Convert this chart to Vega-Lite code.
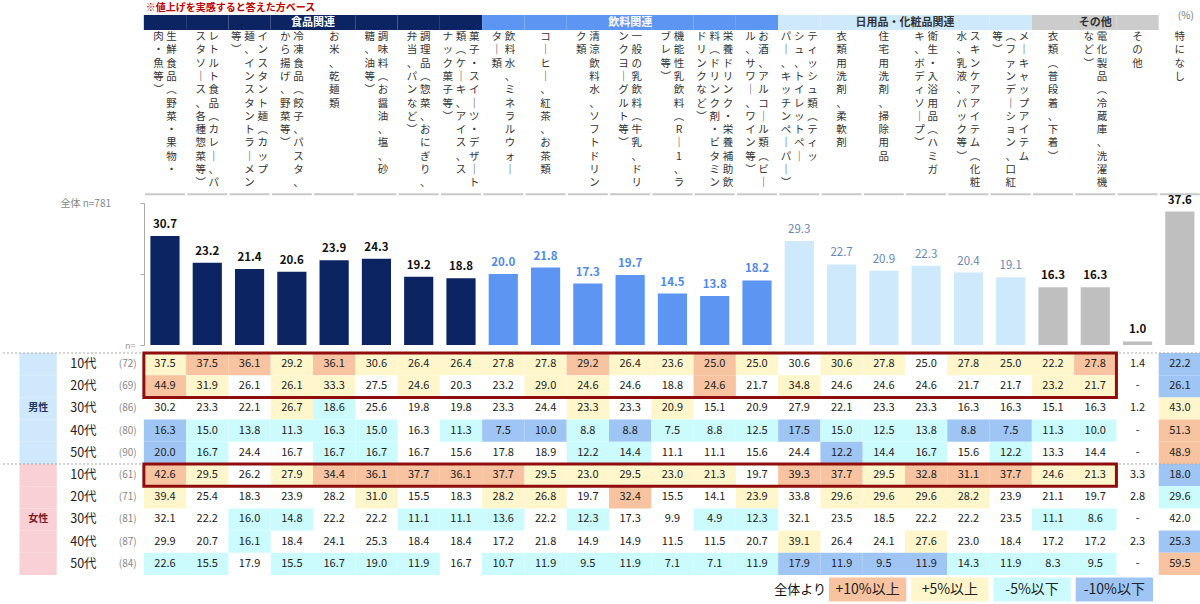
{
  "$schema": "https://vega.github.io/schema/vega-lite/v6.json",
  "padding": 0,
  "spacing": 0,
  "bounds": "flush",
  "config": {"view": {"stroke": null}, "font": "Noto Sans CJK JP"},
  "resolve": {"scale": {"x": "independent", "y": "independent", "color": "independent"}},
  "datasets": {
    "bars": [
      {"c":1,"cat":"食品関連","v":30.7},{"c":2,"cat":"食品関連","v":23.2},{"c":3,"cat":"食品関連","v":21.4},{"c":4,"cat":"食品関連","v":20.6},
      {"c":5,"cat":"食品関連","v":23.9},{"c":6,"cat":"食品関連","v":24.3},{"c":7,"cat":"食品関連","v":19.2},{"c":8,"cat":"食品関連","v":18.8},
      {"c":9,"cat":"飲料関連","v":20.0},{"c":10,"cat":"飲料関連","v":21.8},{"c":11,"cat":"飲料関連","v":17.3},{"c":12,"cat":"飲料関連","v":19.7},
      {"c":13,"cat":"飲料関連","v":14.5},{"c":14,"cat":"飲料関連","v":13.8},{"c":15,"cat":"飲料関連","v":18.2},
      {"c":16,"cat":"日用品・化粧品関連","v":29.3},{"c":17,"cat":"日用品・化粧品関連","v":22.7},{"c":18,"cat":"日用品・化粧品関連","v":20.9},
      {"c":19,"cat":"日用品・化粧品関連","v":22.3},{"c":20,"cat":"日用品・化粧品関連","v":20.4},{"c":21,"cat":"日用品・化粧品関連","v":19.1},
      {"c":22,"cat":"その他","v":16.3},{"c":23,"cat":"その他","v":16.3},{"c":24,"cat":"その他","v":1.0},
      {"c":25,"cat":"特になし","v":37.6}
    ],
    "labels": [
      {"c":1,"o":0.5,"t":"生\n鮮\n食\n品\n︵\n野\n菜\n・\n果\n物\n・"},
      {"c":1,"o":-0.5,"t":"肉\n・\n魚\n等\n︶"},
      {"c":2,"o":0.5,"t":"レ\nト\nル\nト\n食\n品\n︵\nカ\nレ\n｜\n、\nパ"},
      {"c":2,"o":-0.5,"t":"ス\nタ\nソ\n｜\nス\n、\n各\n種\n惣\n菜\n等\n︶"},
      {"c":3,"o":1,"t":"イ\nン\nス\nタ\nン\nト\n麺\n︵\nカ\nッ\nプ"},
      {"c":3,"o":0,"t":"麺\n、\nイ\nン\nス\nタ\nン\nト\nラ\n｜\nメ\nン"},
      {"c":3,"o":-1,"t":"等\n︶"},
      {"c":4,"o":0.5,"t":"冷\n凍\n食\n品\n︵\n餃\n子\n、\nパ\nス\nタ\n、"},
      {"c":4,"o":-0.5,"t":"か\nら\n揚\nげ\n、\n野\n菜\n等\n︶"},
      {"c":5,"o":0,"t":"お\n米\n、\n乾\n麺\n類"},
      {"c":6,"o":0.5,"t":"調\n味\n料\n︵\nお\n醤\n油\n、\n塩\n、\n砂"},
      {"c":6,"o":-0.5,"t":"糖\n、\n油\n等\n︶"},
      {"c":7,"o":0.5,"t":"調\n理\n品\n︵\n惣\n菜\n、\nお\nに\nぎ\nり\n、"},
      {"c":7,"o":-0.5,"t":"弁\n当\n、\nパ\nン\nな\nど\n︶"},
      {"c":8,"o":1,"t":"菓\n子\n・\nス\nイ\n｜\nツ\n・\nデ\nザ\n｜\nト"},
      {"c":8,"o":0,"t":"類\n︵\nケ\n｜\nキ\n、\nア\nイ\nス\n、\nス"},
      {"c":8,"o":-1,"t":"ナ\nッ\nク\n菓\n子\n等\n︶"},
      {"c":9,"o":0.5,"t":"飲\n料\n水\n、\nミ\nネ\nラ\nル\nウ\nォ\n｜"},
      {"c":9,"o":-0.5,"t":"タ\n｜\n類"},
      {"c":10,"o":0,"t":"コ\n｜\nヒ\n｜\n、\n紅\n茶\n、\nお\n茶\n類"},
      {"c":11,"o":0.5,"t":"清\n涼\n飲\n料\n水\n、\nソ\nフ\nト\nド\nリ\nン"},
      {"c":11,"o":-0.5,"t":"ク\n類"},
      {"c":12,"o":0.5,"t":"一\n般\nの\n乳\n飲\n料\n︵\n牛\n乳\n、\nド\nリ"},
      {"c":12,"o":-0.5,"t":"ン\nク\nヨ\n｜\nグ\nル\nト\n等\n︶"},
      {"c":13,"o":0.5,"t":"機\n能\n性\n乳\n飲\n料\n︵\nR\n｜\n1\n、\nラ"},
      {"c":13,"o":-0.5,"t":"ブ\nレ\n等\n︶"},
      {"c":14,"o":1,"t":"栄\n養\nド\nリ\nン\nク\n・\n栄\n養\n補\n助\n飲"},
      {"c":14,"o":0,"t":"料\n︵\nド\nリ\nン\nク\n剤\n・\nビ\nタ\nミ\nン"},
      {"c":14,"o":-1,"t":"ド\nリ\nン\nク\nな\nど\n︶"},
      {"c":15,"o":0.5,"t":"お\n酒\n、\nア\nル\nコ\n｜\nル\n類\n︵\nビ\n｜"},
      {"c":15,"o":-0.5,"t":"ル\n、\nサ\nワ\n｜\n、\nワ\nイ\nン\n等\n︶"},
      {"c":16,"o":1,"t":"テ\nィ\nッ\nシ\nュ\n類\n︵\nテ\nィ\nッ"},
      {"c":16,"o":0,"t":"シ\nュ\n、\nト\nイ\nレ\nッ\nト\nペ\n｜"},
      {"c":16,"o":-1,"t":"パ\n｜\n、\nキ\nッ\nチ\nン\nペ\n｜\nパ\n｜\n︶"},
      {"c":17,"o":0,"t":"衣\n類\n用\n洗\n剤\n、\n柔\n軟\n剤"},
      {"c":18,"o":0,"t":"住\n宅\n用\n洗\n剤\n、\n掃\n除\n用\n品"},
      {"c":19,"o":0.5,"t":"衛\n生\n・\n入\n浴\n用\n品\n︵\nハ\nミ\nガ"},
      {"c":19,"o":-0.5,"t":"キ\n、\nボ\nデ\nィ\nソ\n｜\nプ\n︶"},
      {"c":20,"o":0.5,"t":"ス\nキ\nン\nケ\nア\nア\nイ\nテ\nム\n︵\n化\n粧"},
      {"c":20,"o":-0.5,"t":"水\n、\n乳\n液\n、\nパ\nッ\nク\n等\n︶"},
      {"c":21,"o":1,"t":"メ\n｜\nキ\nャ\nッ\nプ\nア\nイ\nテ\nム"},
      {"c":21,"o":0,"t":"︵\nフ\nァ\nン\nデ\n｜\nシ\nョ\nン\n、\n口\n紅"},
      {"c":21,"o":-1,"t":"等\n︶"},
      {"c":22,"o":0,"t":"衣\n類\n︵\n普\n段\n着\n、\n下\n着\n︶"},
      {"c":23,"o":0.5,"t":"電\n化\n製\n品\n︵\n冷\n蔵\n庫\n、\n洗\n濯\n機"},
      {"c":23,"o":-0.5,"t":"な\nど\n︶"},
      {"c":24,"o":0,"t":"そ\nの\n他"},
      {"c":25,"o":0,"t":"特\nに\nな\nし"}
    ],
    "cells": [
      {"r":"男10","c":[1,2,3,4,5,6,7,8,9,10,11,12,13,14,15,16,17,18,19,20,21,22,23,24,25],
       "v":[37.5,37.5,36.1,29.2,36.1,30.6,26.4,26.4,27.8,27.8,29.2,26.4,23.6,25.0,25.0,30.6,30.6,27.8,25.0,27.8,25.0,22.2,27.8,1.4,22.2],
       "h":["p5","p10","p10","p5","p10","p5","p5","p5","p5","p5","p10","p5","p5","p10","p5","","p5","p5","","p5","p5","p5","p10","","m10"]},
      {"r":"男20","c":[1,2,3,4,5,6,7,8,9,10,11,12,13,14,15,16,17,18,19,20,21,22,23,24,25],
       "v":[44.9,31.9,26.1,26.1,33.3,27.5,24.6,20.3,23.2,29.0,24.6,24.6,18.8,24.6,21.7,34.8,24.6,24.6,24.6,21.7,21.7,23.2,21.7,null,26.1],
       "h":["p10","p5","","p5","p5","","p5","","","p5","p5","","","p10","","p5","","","","","","p5","p5","","m10"]},
      {"r":"男30","c":[1,2,3,4,5,6,7,8,9,10,11,12,13,14,15,16,17,18,19,20,21,22,23,24,25],
       "v":[30.2,23.3,22.1,26.7,18.6,25.6,19.8,19.8,23.3,24.4,23.3,23.3,20.9,15.1,20.9,27.9,22.1,23.3,23.3,16.3,16.3,15.1,16.3,1.2,43.0],
       "h":["","","","p5","m5","","","","","","p5","","p5","","","","","","","","","","","","p5"]},
      {"r":"男40","c":[1,2,3,4,5,6,7,8,9,10,11,12,13,14,15,16,17,18,19,20,21,22,23,24,25],
       "v":[16.3,15.0,13.8,11.3,16.3,15.0,16.3,11.3,7.5,10.0,8.8,8.8,7.5,8.8,12.5,17.5,15.0,12.5,13.8,8.8,7.5,11.3,10.0,null,51.3],
       "h":["m10","m5","m5","m5","m5","m5","","m5","m10","m10","m5","m10","m5","m5","m5","m10","m5","m5","m5","m10","m10","m5","m5","","p10"]},
      {"r":"男50","c":[1,2,3,4,5,6,7,8,9,10,11,12,13,14,15,16,17,18,19,20,21,22,23,24,25],
       "v":[20.0,16.7,24.4,16.7,16.7,16.7,16.7,15.6,17.8,18.9,12.2,14.4,11.1,11.1,15.6,24.4,12.2,14.4,16.7,15.6,12.2,13.3,14.4,null,48.9],
       "h":["m10","m5","","","m5","m5","","","","","m5","m5","","","","","m10","m5","m5","","m5","","","","p10"]},
      {"r":"女10","c":[1,2,3,4,5,6,7,8,9,10,11,12,13,14,15,16,17,18,19,20,21,22,23,24,25],
       "v":[42.6,29.5,26.2,27.9,34.4,36.1,37.7,36.1,37.7,29.5,23.0,29.5,23.0,21.3,19.7,39.3,37.7,29.5,32.8,31.1,37.7,24.6,21.3,3.3,18.0],
       "h":["p10","p5","","p5","p10","p10","p10","p10","p10","p5","p5","p5","p5","p5","","p10","p10","p5","p10","p10","p10","p5","p5","","m10"]},
      {"r":"女20","c":[1,2,3,4,5,6,7,8,9,10,11,12,13,14,15,16,17,18,19,20,21,22,23,24,25],
       "v":[39.4,25.4,18.3,23.9,28.2,31.0,15.5,18.3,28.2,26.8,19.7,32.4,15.5,14.1,23.9,33.8,29.6,29.6,29.6,28.2,23.9,21.1,19.7,2.8,29.6],
       "h":["p5","","","","","p5","","","p5","p5","","p10","","","p5","","p5","p5","p5","p5","","","","","m5"]},
      {"r":"女30","c":[1,2,3,4,5,6,7,8,9,10,11,12,13,14,15,16,17,18,19,20,21,22,23,24,25],
       "v":[32.1,22.2,16.0,14.8,22.2,22.2,11.1,11.1,13.6,22.2,12.3,17.3,9.9,4.9,12.3,32.1,23.5,18.5,22.2,22.2,23.5,11.1,8.6,null,42.0],
       "h":["","","m5","m5","","","m5","m5","m5","","m5","","","m5","m5","","","","","","","m5","m5","",""]},
      {"r":"女40","c":[1,2,3,4,5,6,7,8,9,10,11,12,13,14,15,16,17,18,19,20,21,22,23,24,25],
       "v":[29.9,20.7,16.1,18.4,24.1,25.3,18.4,18.4,17.2,21.8,14.9,14.9,11.5,11.5,20.7,39.1,26.4,24.1,27.6,23.0,18.4,17.2,17.2,2.3,25.3],
       "h":["","","m5","","","","","","","","","","","","","p5","","","p5","","","","","","m10"]},
      {"r":"女50","c":[1,2,3,4,5,6,7,8,9,10,11,12,13,14,15,16,17,18,19,20,21,22,23,24,25],
       "v":[22.6,15.5,17.9,15.5,16.7,19.0,11.9,16.7,10.7,11.9,9.5,11.9,7.1,7.1,11.9,17.9,11.9,9.5,11.9,14.3,11.9,8.3,9.5,null,59.5],
       "h":["m5","m5","","m5","m5","m5","m5","","m5","m5","m5","m5","m5","m5","m5","m10","m10","m10","m10","m5","m5","m5","m5","","p10"]}
    ],
    "rows": [
      {"r":"男10","a":"10代","n":"(72)","g":"男性"},{"r":"男20","a":"20代","n":"(69)","g":"男性"},
      {"r":"男30","a":"30代","n":"(86)","g":"男性"},{"r":"男40","a":"40代","n":"(80)","g":"男性"},
      {"r":"男50","a":"50代","n":"(90)","g":"男性"},{"r":"女10","a":"10代","n":"(61)","g":"女性"},
      {"r":"女20","a":"20代","n":"(71)","g":"女性"},{"r":"女30","a":"30代","n":"(81)","g":"女性"},
      {"r":"女40","a":"40代","n":"(87)","g":"女性"},{"r":"女50","a":"50代","n":"(84)","g":"女性"}
    ],
    "boxes": [
      {"b0":1,"b1":23,"r0":"男10","r1":"男20"},
      {"b0":1,"b1":23,"r0":"女10","r1":"女10"}
    ],
    "legend": [
      {"k":"p10","lab":"+10%以上"},{"k":"p5","lab":"+5%以上"},{"k":"m5","lab":"-5%以下"},{"k":"m10","lab":"-10%以下"}
    ]
  },
  "vconcat": [
    {
      "width": 1200, "height": 15,
      "layer": [
        {
          "data": {"values": [{"c": 1, "t": "※値上げを実感すると答えた方ベース"}]},
          "mark": {"type": "text", "align": "left", "baseline": "middle", "fontSize": 10, "fontWeight": "bold", "color": "#c00000", "dx": 2},
          "encoding": {
            "x": {"field": "c", "type": "ordinal", "bandPosition": 0, "scale": {"type": "band", "domain": ["s","a","n",1,2,3,4,5,6,7,8,9,10,11,12,13,14,15,16,17,18,19,20,21,22,23,24,25], "paddingInner": 0, "paddingOuter": 0.189, "align": 1}, "axis": null},
            "text": {"field": "t"}
          }
        },
        {
          "data": {"values": [{"c": 25, "t": "(%)"}]},
          "mark": {"type": "text", "baseline": "top", "fontSize": 10, "color": "#777777", "dx": 6, "dy": 3},
          "encoding": {
            "x": {"field": "c", "type": "ordinal", "scale": {"type": "band", "domain": ["s","a","n",1,2,3,4,5,6,7,8,9,10,11,12,13,14,15,16,17,18,19,20,21,22,23,24,25], "paddingInner": 0, "paddingOuter": 0.189, "align": 1}, "axis": null},
            "text": {"field": "t"}
          }
        }
      ]
    },
    {
      "width": 1200, "height": 15,
      "data": {"name": "bars"},
      "transform": [{"filter": "datum.cat != '特になし'"}],
      "layer": [
        {
          "mark": {"type": "rect"},
          "encoding": {
            "x": {"field": "c", "type": "ordinal", "scale": {"type": "band", "domain": ["s","a","n",1,2,3,4,5,6,7,8,9,10,11,12,13,14,15,16,17,18,19,20,21,22,23,24,25], "paddingInner": 0, "paddingOuter": 0.189, "align": 1}, "axis": null},
            "color": {"field": "cat", "type": "nominal", "scale": {"domain": ["食品関連","飲料関連","日用品・化粧品関連","その他"], "range": ["#0c2461","#5c95f2","#cde9fb","#cccccc"]}, "legend": null}
          }
        },
        {
          "mark": {"type": "text", "fontSize": 11, "fontWeight": "bold", "baseline": "middle"},
          "encoding": {
            "x": {"field": "c", "aggregate": "mean", "type": "quantitative", "scale": {"domain": [-2.879, 25.5], "nice": false, "zero": false}, "axis": null},
            "text": {"field": "cat"},
            "color": {"field": "cat", "type": "nominal", "scale": {"domain": ["食品関連","飲料関連","日用品・化粧品関連","その他"], "range": ["#ffffff","#ffffff","#333333","#333333"]}, "legend": null}
          }
        }
      ],
      "resolve": {"scale": {"x": "independent", "color": "independent"}}
    },
    {
      "width": 1200, "height": 173,
      "encoding": {
        "x": {"field": "c", "type": "ordinal", "scale": {"type": "band", "domain": ["s","a","n",1,2,3,4,5,6,7,8,9,10,11,12,13,14,15,16,17,18,19,20,21,22,23,24,25], "paddingInner": 0, "paddingOuter": 0.189, "align": 1}, "axis": null}
      },
      "layer": [
        {
          "data": {"name": "labels"},
          "transform": [{"filter": "datum.o == 1"}],
          "mark": {"type": "text", "baseline": "top", "align": "center", "fontSize": 10.5, "lineHeight": 13.3, "lineBreak": "\n", "color": "#333333", "dy": 2, "dx": 13.2},
          "encoding": {
            "y": {"datum": 1, "type": "quantitative", "scale": {"domain": [0, 1], "nice": false}, "axis": null},
            "text": {"field": "t"}
          }
        },
        {
          "data": {"name": "labels"},
          "transform": [{"filter": "datum.o == 0.5"}],
          "mark": {"type": "text", "baseline": "top", "align": "center", "fontSize": 10.5, "lineHeight": 13.3, "lineBreak": "\n", "color": "#333333", "dy": 2, "dx": 6.6},
          "encoding": {
            "y": {"datum": 1, "type": "quantitative", "scale": {"domain": [0, 1], "nice": false}, "axis": null},
            "text": {"field": "t"}
          }
        },
        {
          "data": {"name": "labels"},
          "transform": [{"filter": "datum.o == 0"}],
          "mark": {"type": "text", "baseline": "top", "align": "center", "fontSize": 10.5, "lineHeight": 13.3, "lineBreak": "\n", "color": "#333333", "dy": 2},
          "encoding": {
            "y": {"datum": 1, "type": "quantitative", "scale": {"domain": [0, 1], "nice": false}, "axis": null},
            "text": {"field": "t"}
          }
        },
        {
          "data": {"name": "labels"},
          "transform": [{"filter": "datum.o == -0.5"}],
          "mark": {"type": "text", "baseline": "top", "align": "center", "fontSize": 10.5, "lineHeight": 13.3, "lineBreak": "\n", "color": "#333333", "dy": 2, "dx": -6.6},
          "encoding": {
            "y": {"datum": 1, "type": "quantitative", "scale": {"domain": [0, 1], "nice": false}, "axis": null},
            "text": {"field": "t"}
          }
        },
        {
          "data": {"name": "labels"},
          "transform": [{"filter": "datum.o == -1"}],
          "mark": {"type": "text", "baseline": "top", "align": "center", "fontSize": 10.5, "lineHeight": 13.3, "lineBreak": "\n", "color": "#333333", "dy": 2, "dx": -13.2},
          "encoding": {
            "y": {"datum": 1, "type": "quantitative", "scale": {"domain": [0, 1], "nice": false}, "axis": null},
            "text": {"field": "t"}
          }
        },
        {
          "data": {"name": "bars"},
          "mark": {"type": "tick", "color": "#b4b4b4", "thickness": 2, "size": 40},
          "encoding": {
            "y": {"datum": 0.05, "type": "quantitative", "scale": {"domain": [0, 1], "nice": false}, "axis": null}
          }
        }
      ]
    },
    {
      "width": 1200, "height": 142,
      "data": {"name": "bars"},
      "encoding": {
        "x": {"field": "c", "type": "ordinal", "scale": {"type": "band", "domain": ["s","a","n",1,2,3,4,5,6,7,8,9,10,11,12,13,14,15,16,17,18,19,20,21,22,23,24,25], "paddingInner": 0, "paddingOuter": 0.189, "align": 1}, "axis": null},
        "y": {"field": "v", "type": "quantitative", "scale": {"domain": [0, 40], "nice": false},
          "axis": {"offset": -143, "values": [0, 20, 40], "tickSize": 4, "labelExpr": "datum.value == 0 ? 'n=' : ''", "labelFontSize": 9, "labelColor": "#999999", "labelPadding": 5, "domainColor": "#aaaaaa", "tickColor": "#aaaaaa", "grid": false,
            "title": "全体 n=781", "titleAngle": 0, "titleAnchor": "end", "titleAlign": "right", "titleBaseline": "middle", "titleFontSize": 10, "titleFontWeight": "normal", "titleColor": "#888888", "titlePadding": 14}}
      },
      "layer": [
        {
          "mark": {"type": "bar", "width": {"band": 0.69}},
          "encoding": {
            "color": {"field": "cat", "type": "nominal", "scale": {"domain": ["食品関連","飲料関連","日用品・化粧品関連","その他","特になし"], "range": ["#0c2461","#5c95f2","#cde9fb","#bfbfbf","#bfbfbf"]}, "legend": null}
          }
        },
        {
          "transform": [{"filter": "datum.cat != '日用品・化粧品関連'"}],
          "mark": {"type": "text", "baseline": "bottom", "dy": -6, "fontSize": 11.5, "fontWeight": "bold"},
          "encoding": {
            "text": {"field": "v", "type": "quantitative", "format": ".1f"},
            "color": {"field": "cat", "type": "nominal", "scale": {"domain": ["食品関連","飲料関連","その他","特になし"], "range": ["#111111","#4e88ea","#111111","#111111"]}, "legend": null}
          }
        },
        {
          "transform": [{"filter": "datum.cat == '日用品・化粧品関連'"}],
          "mark": {"type": "text", "baseline": "bottom", "dy": -6, "fontSize": 11.5, "color": "#6a87b5"},
          "encoding": {
            "text": {"field": "v", "type": "quantitative", "format": ".1f"}
          }
        }
      ],
      "resolve": {"scale": {"color": "independent"}}
    },
    {
      "width": 1200, "height": 230,
      "encoding": {
        "y": {"field": "r", "type": "nominal", "scale": {"type": "band", "domain": ["男10","男20","男30","男40","男50","女10","女20","女30","女40","女50"], "paddingInner": 0, "paddingOuter": 0.18, "align": 1}, "axis": null}
      },
      "layer": [
        {
          "data": {"name": "cells"},
          "transform": [{"flatten": ["c", "v", "h"]}, {"filter": "datum.h != ''"}],
          "mark": {"type": "rect"},
          "encoding": {
            "x": {"field": "c", "type": "ordinal", "scale": {"type": "band", "domain": ["s","a","n",1,2,3,4,5,6,7,8,9,10,11,12,13,14,15,16,17,18,19,20,21,22,23,24,25], "paddingInner": 0, "paddingOuter": 0.189, "align": 1}, "axis": null},
            "color": {"field": "h", "type": "nominal", "scale": {"domain": ["p10","p5","m5","m10","男性","女性"], "range": ["#f7c3a0","#fff6cc","#ccfbfd","#9fc5f5","#cfe8fb","#f9d0d6"]}, "legend": null}
          }
        },
        {
          "data": {"name": "rows"},
          "mark": {"type": "rect", "width": {"band": 0.88}},
          "encoding": {
            "x": {"datum": "s", "type": "ordinal"},
            "color": {"field": "g", "type": "nominal"}
          }
        },
        {
          "data": {"name": "cells"},
          "transform": [{"flatten": ["c", "v", "h"]}],
          "mark": {"type": "text", "fontSize": 11, "color": "#222222"},
          "encoding": {
            "x": {"field": "c", "type": "ordinal"},
            "text": {"condition": {"test": "datum.v === null", "value": "-"}, "field": "v", "type": "quantitative", "format": ".1f"}
          }
        },
        {
          "data": {"name": "rows"},
          "transform": [{"filter": "datum.r == '男30' || datum.r == '女30'"}],
          "mark": {"type": "text", "fontSize": 10, "fontWeight": "bold"},
          "encoding": {
            "x": {"datum": "s", "type": "ordinal"},
            "text": {"field": "g"},
            "color": {"condition": {"test": "datum.g == '男性'", "value": "#1f3864"}, "value": "#7a1c2a"}
          }
        },
        {
          "data": {"name": "rows"},
          "mark": {"type": "text", "fontSize": 12.5, "color": "#222222", "dx": 3},
          "encoding": {
            "x": {"datum": "a", "type": "ordinal"},
            "text": {"field": "a"}
          }
        },
        {
          "data": {"name": "rows"},
          "mark": {"type": "text", "fontSize": 10, "color": "#888888", "dx": 5},
          "encoding": {
            "x": {"datum": "n", "type": "ordinal"},
            "text": {"field": "n"}
          }
        },
        {
          "data": {"values": [{"r": "男10"}, {"r": "女10"}]},
          "mark": {"type": "rule", "strokeDash": [2, 2], "color": "#aaaaaa"},
          "encoding": {
            "y": {"field": "r", "type": "nominal", "bandPosition": 0}
          }
        },
        {
          "data": {"name": "boxes"},
          "mark": {"type": "rect", "fill": "transparent", "stroke": "#900d0d", "strokeWidth": 3},
          "encoding": {
            "x": {"field": "b0", "type": "ordinal", "bandPosition": 0},
            "x2": {"field": "b1", "bandPosition": 1},
            "y": {"field": "r0", "type": "nominal", "bandPosition": 0},
            "y2": {"field": "r1", "bandPosition": 1}
          }
        }
      ]
    },
    {
      "width": 1200, "height": 29,
      "data": {"name": "legend"},
      "encoding": {
        "x": {"field": "lab", "type": "nominal", "sort": null, "scale": {"type": "band", "domain": ["+10%以上","+5%以上","-5%以下","-10%以下"], "range": [828, 1152], "paddingInner": 0.06, "paddingOuter": 0}, "axis": null},
        "y": {"datum": "L", "type": "nominal", "scale": {"type": "band", "domain": ["L"], "paddingOuter": 0.1, "paddingInner": 0}, "axis": null}
      },
      "layer": [
        {
          "mark": {"type": "rect"},
          "encoding": {
            "color": {"field": "k", "type": "nominal", "scale": {"domain": ["p10","p5","m5","m10"], "range": ["#f7c3a0","#fff6cc","#ccfbfd","#9fc5f5"]}, "legend": null}
          }
        },
        {
          "mark": {"type": "text", "fontSize": 14, "color": "#222222"},
          "encoding": {"text": {"field": "lab"}}
        },
        {
          "data": {"values": [{"lab": "+10%以上", "t": "全体より"}]},
          "mark": {"type": "text", "align": "right", "fontSize": 13, "color": "#111111", "dx": -3},
          "encoding": {
            "x": {"field": "lab", "type": "nominal", "bandPosition": 0},
            "text": {"field": "t"}
          }
        }
      ]
    }
  ]
}
